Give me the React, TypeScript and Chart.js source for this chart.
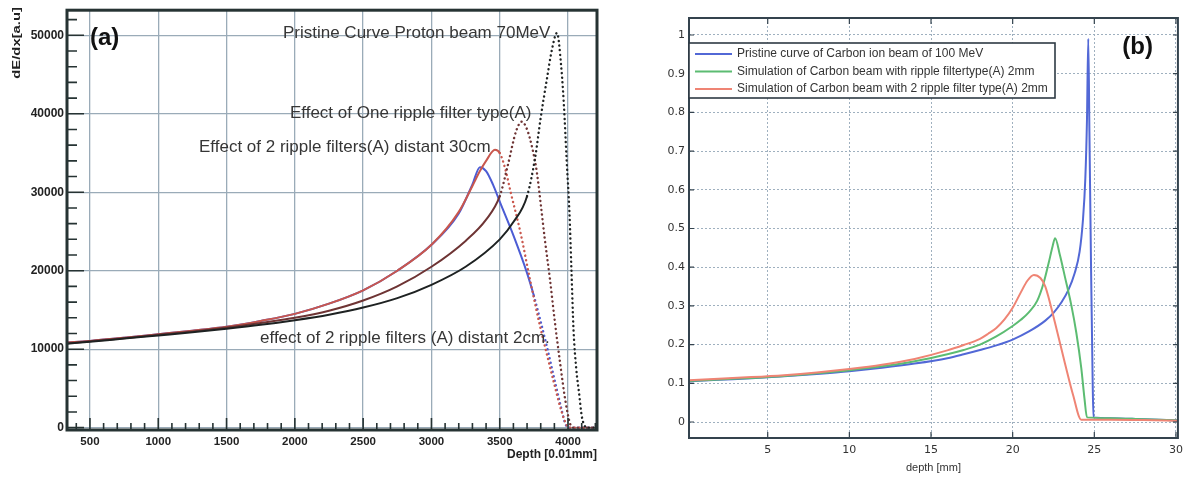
import React, { useEffect, useRef } from 'react';
import { Chart, registerables } from 'chart.js';

Chart.register(...registerables);

// ---------- Panel (a): proton beam 70 MeV ----------
const aPristineX = [332, 500, 750, 1000, 1250, 1500, 1750, 2000, 2250, 2500, 2750, 3000, 3250, 3500, 3600, 3700, 3760, 3800, 3846, 3880, 3919, 3950, 3970, 3990, 4010, 4025, 4040, 4060, 4080, 4100, 4120, 4140, 4212];
const aPristineY = [10700, 10950, 11350, 11750, 12150, 12600, 13100, 13700, 14400, 15300, 16500, 18200, 20500, 24000, 26200, 29500, 34500, 39500, 44500, 48000, 50300, 46000, 41000, 34000, 27500, 20000, 12500, 7500, 4500, 1500, 300, 0, 0];

const aOneFilterX = [332, 500, 750, 1000, 1250, 1500, 1750, 2000, 2250, 2500, 2750, 3000, 3250, 3400, 3500, 3560, 3620, 3662, 3700, 3740, 3772, 3800, 3830, 3867, 3900, 3940, 3980, 4015, 4040, 4212];
const aOneFilterY = [10750, 11000, 11400, 11850, 12250, 12750, 13350, 14000, 14900, 16200, 18000, 20500, 23800, 26500, 29500, 33500, 37800, 39000, 38000, 35500, 32500, 28500, 24000, 19000, 14000, 8500, 3500, 500, 0, 0];

const aTwoFilters30X = [332, 500, 750, 1000, 1250, 1500, 1750, 2000, 2250, 2500, 2750, 3000, 3200, 3300, 3355, 3400, 3465, 3500, 3540, 3580, 3650, 3720, 3794, 3850, 3900, 3950, 3990, 4010, 4212];
const aTwoFilters30Y = [10850, 11050, 11450, 11900, 12350, 12850, 13600, 14500, 15800, 17500, 20000, 23300, 27500, 30800, 32700, 34000, 35400, 35000, 33000, 30000, 25000, 19000, 13000, 9000, 5500, 2200, 300, 0, 0];

const aTwoFilters2X = [332, 500, 750, 1000, 1250, 1500, 1750, 2000, 2250, 2500, 2750, 3000, 3200, 3300, 3355, 3400, 3450, 3500, 3600, 3700, 3750, 3800, 3850, 3900, 3950, 3980, 4000, 4212];
const aTwoFilters2Y = [10850, 11050, 11450, 11900, 12350, 12850, 13600, 14500, 15800, 17500, 20000, 23300, 27300, 31000, 33200, 32700, 31000, 28800, 24500, 19700, 16800, 13500, 10000, 6200, 2500, 500, 0, 0];

const aXTicks = [500, 1000, 1500, 2000, 2500, 3000, 3500, 4000];
const aYTicks = [0, 10000, 20000, 30000, 40000, 50000];
const aXMinor = [400, 500, 600, 700, 800, 900, 1000, 1100, 1200, 1300, 1400, 1500, 1600, 1700, 1800, 1900, 2000, 2100, 2200, 2300, 2400, 2500, 2600, 2700, 2800, 2900, 3000, 3100, 3200, 3300, 3400, 3500, 3600, 3700, 3800, 3900, 4000, 4100, 4200];
const aYMinor = [0, 2000, 4000, 6000, 8000, 10000, 12000, 14000, 16000, 18000, 20000, 22000, 24000, 26000, 28000, 30000, 32000, 34000, 36000, 38000, 40000, 42000, 44000, 46000, 48000, 50000, 52000];

const aNotes = [
  { text: 'Pristine Curve Proton beam 70MeV', x: 1913, y: 50200 },
  { text: 'Effect of One ripple filter type(A)', x: 1964, y: 40100 },
  { text: 'Effect of 2 ripple filters(A) distant 30cm', x: 1298, y: 35770 },
  { text: 'effect of 2 ripple filters (A) distant 2cm.', x: 1745, y: 11340 },
];

// ---------- Panel (b): carbon ion beam 100 MeV ----------
const bPristineX = [0.18, 2, 4, 6, 8, 10, 12, 14, 16, 17, 18, 19, 20, 21, 22, 22.5, 23, 23.4, 23.8, 24.1, 24.3, 24.45, 24.55, 24.63, 24.7, 24.8, 24.9, 24.95, 26, 28, 30.12];
const bPristineY = [0.105, 0.109, 0.113, 0.118, 0.124, 0.131, 0.14, 0.151, 0.165, 0.175, 0.186, 0.198, 0.213, 0.234, 0.262, 0.282, 0.31, 0.34, 0.385, 0.44, 0.52, 0.63, 0.78, 0.99, 0.75, 0.4, 0.1, 0.012, 0.01, 0.007, 0.004];

const bOneRippleX = [0.18, 2, 4, 6, 8, 10, 12, 14, 16, 17, 18, 19, 20, 20.5, 21, 21.5, 21.9, 22.2, 22.45, 22.6, 22.9, 23.2, 23.6, 23.9, 24.2, 24.4, 24.55, 26, 28, 30.12];
const bOneRippleY = [0.106, 0.11, 0.114, 0.119, 0.126, 0.134, 0.144, 0.157, 0.175, 0.186, 0.2, 0.221, 0.248, 0.264, 0.284, 0.313, 0.36, 0.41, 0.455, 0.475, 0.43, 0.375, 0.3, 0.23, 0.14, 0.06, 0.012, 0.01, 0.007, 0.004];

const bTwoRippleX = [0.18, 2, 4, 6, 8, 10, 12, 14, 16, 17, 18, 18.5, 19, 19.5, 20, 20.5, 20.9, 21.3, 21.7, 22, 22.6, 23.2, 23.7, 24.2, 26, 28, 30.12];
const bTwoRippleY = [0.108, 0.112, 0.116, 0.121, 0.128, 0.137, 0.148, 0.163, 0.185, 0.199, 0.215, 0.228, 0.243, 0.265, 0.295, 0.335, 0.365, 0.38, 0.372, 0.35, 0.255, 0.152, 0.07, 0.006, 0.006, 0.005, 0.003];

const bXTicks = [5, 10, 15, 20, 25, 30];
const bYTicks = [0, 0.1, 0.2, 0.3, 0.4, 0.5, 0.6, 0.7, 0.8, 0.9, 1];
const bLegendLabels = [
  'Pristine curve of Carbon ion beam of 100 MeV',
  'Simulation of Carbon beam with ripple filtertype(A) 2mm',
  'Simulation of Carbon beam with 2 ripple filter type(A) 2mm',
];
const bColors = ['#5268d6', '#5cbc72', '#ef8474'];

const FONT = '"Liberation Sans", Arial, sans-serif';
const FONT_B = '"DejaVu Sans", Verdana, sans-serif';

const pts = (xs: number[], ys: number[]) => xs.map((x, i) => ({ x, y: ys[i] }));

function aSeries(label: string, xs: number[], ys: number[], color: string, dotFrom: number, order: number) {
  return {
    label,
    data: pts(xs, ys),
    borderColor: color,
    borderWidth: 2,
    borderCapStyle: 'round',
    pointRadius: 0,
    cubicInterpolationMode: 'monotone',
    order,
    segment: {
      borderDash: (c: any) => (c.p0.parsed.x >= dotFrom ? [0.1, 4.5] : undefined),
      borderWidth: (c: any) => (c.p0.parsed.x >= dotFrom ? 2.4 : undefined),
    },
  };
}

const decorA = {
  id: 'decorA',
  afterDraw(chart: any) {
    const { ctx, chartArea: ca, scales } = chart;
    const x = scales.x;
    const y = scales.y;
    ctx.save();
    ctx.strokeStyle = '#263333';
    ctx.lineWidth = 1.6;
    ctx.beginPath();
    for (const v of aYMinor) {
      const py = y.getPixelForValue(v);
      if (py < ca.top || py > ca.bottom) continue;
      const len = aYTicks.includes(v) ? 17 : 10;
      ctx.moveTo(ca.left, py);
      ctx.lineTo(ca.left + len, py);
    }
    for (const v of aXMinor) {
      const px = x.getPixelForValue(v);
      if (px < ca.left || px > ca.right) continue;
      const len = aXTicks.includes(v) ? 12 : 7;
      ctx.moveTo(px, ca.bottom);
      ctx.lineTo(px, ca.bottom - len);
    }
    ctx.stroke();
    ctx.lineWidth = 3;
    ctx.strokeRect(ca.left, ca.top, ca.right - ca.left, ca.bottom - ca.top);

    // annotations
    ctx.fillStyle = '#363636';
    ctx.font = `17px ${FONT}`;
    ctx.textBaseline = 'middle';
    ctx.textAlign = 'left';
    for (const n of aNotes) ctx.fillText(n.text, x.getPixelForValue(n.x), y.getPixelForValue(n.y));

    // panel tag
    ctx.fillStyle = '#111';
    ctx.font = `bold 24px ${FONT}`;
    ctx.fillText('(a)', ca.left + 23, ca.top + 28);

    // axis titles
    ctx.fillStyle = '#222';
    ctx.font = `bold 12px ${FONT}`;
    ctx.textAlign = 'right';
    ctx.fillText('Depth [0.01mm]', ca.right, 455);

    ctx.save();
    ctx.translate(17, 7);
    ctx.rotate(-Math.PI / 2);
    ctx.scale(1.35, 1);
    ctx.font = `bold 11px ${FONT}`;
    ctx.textAlign = 'right';
    ctx.fillText('dE/dx[a.u]', 0, 0);
    ctx.restore();
    ctx.restore();
  },
};

const decorB = {
  id: 'decorB',
  afterDraw(chart: any) {
    const { ctx, chartArea: ca, scales } = chart;
    const x = scales.x;
    const y = scales.y;
    ctx.save();
    ctx.strokeStyle = '#34434e';
    ctx.lineWidth = 1.2;
    ctx.beginPath();
    for (const v of bXTicks) {
      const px = x.getPixelForValue(v);
      ctx.moveTo(px, ca.bottom);
      ctx.lineTo(px, ca.bottom - 6);
      ctx.moveTo(px, ca.top);
      ctx.lineTo(px, ca.top + 6);
    }
    for (const v of bYTicks) {
      const py = y.getPixelForValue(v);
      ctx.moveTo(ca.left, py);
      ctx.lineTo(ca.left + 5, py);
      ctx.moveTo(ca.right, py);
      ctx.lineTo(ca.right - 5, py);
    }
    ctx.stroke();
    ctx.lineWidth = 2;
    ctx.strokeRect(ca.left, ca.top, ca.right - ca.left, ca.bottom - ca.top);

    // legend
    const lx = ca.left;
    const ly = ca.top + 25;
    const lw = 366;
    const lh = 55;
    ctx.fillStyle = '#ffffff';
    ctx.fillRect(lx, ly, lw, lh);
    ctx.lineWidth = 1.6;
    ctx.strokeStyle = '#2e3a44';
    ctx.strokeRect(lx, ly, lw, lh);
    ctx.font = `12px ${FONT}`;
    ctx.textBaseline = 'middle';
    ctx.textAlign = 'left';
    bLegendLabels.forEach((lab, i) => {
      const ry = ly + 11 + i * 17.5;
      ctx.strokeStyle = bColors[i];
      ctx.lineWidth = 2;
      ctx.beginPath();
      ctx.moveTo(lx + 6, ry);
      ctx.lineTo(lx + 43, ry);
      ctx.stroke();
      ctx.fillStyle = '#333';
      ctx.fillText(lab, lx + 48, ry);
    });

    // panel tag
    ctx.fillStyle = '#111';
    ctx.font = `bold 24px ${FONT}`;
    ctx.textAlign = 'right';
    ctx.fillText('(b)', ca.right - 25, ca.top + 29);

    // x title
    ctx.fillStyle = '#333';
    ctx.font = `11px ${FONT}`;
    ctx.textAlign = 'center';
    ctx.fillText('depth [mm]', (ca.left + ca.right) / 2, 468);
    ctx.restore();
  },
};

function makeA(canvas: HTMLCanvasElement) {
  return new Chart(canvas, {
    type: 'line',
    data: {
      datasets: [
        aSeries('effect of 2 ripple filters (A) distant 2cm', aTwoFilters2X, aTwoFilters2Y, '#4c5cd4', 3750, 3),
        aSeries('Effect of 2 ripple filters(A) distant 30cm', aTwoFilters30X, aTwoFilters30Y, '#c9574d', 3500, 2),
        aSeries('Effect of One ripple filter type(A)', aOneFilterX, aOneFilterY, '#6e3434', 3500, 1),
        aSeries('Pristine Curve Proton beam 70MeV', aPristineX, aPristineY, '#1e2222', 3700, 0),
      ] as any,
    },
    options: {
      responsive: false,
      animation: false,
      layout: { padding: { top: 10, right: 8, left: 0, bottom: 0 } },
      plugins: { legend: { display: false }, tooltip: { enabled: false } },
      scales: {
        x: {
          type: 'linear',
          min: 332,
          max: 4212,
          afterBuildTicks: (s: any) => { s.ticks = aXTicks.map((value) => ({ value })); },
          afterFit: (s: any) => { s.height = 48; },
          grid: { color: '#9aabb8', lineWidth: 1.3, drawTicks: false },
          border: { display: false },
          ticks: { padding: 5, color: '#222', font: { family: FONT, size: 11.5, weight: 'bold' }, maxRotation: 0, autoSkip: false, callback: (v: any) => String(v) },
        },
        y: {
          type: 'linear',
          min: -300,
          max: 53200,
          afterBuildTicks: (s: any) => { s.ticks = aYTicks.map((value) => ({ value })); },
          afterFit: (s: any) => { s.width = 67; },
          grid: { color: '#9aabb8', lineWidth: 1.3, drawTicks: false },
          border: { display: false },
          ticks: { padding: 3, color: '#222', font: { family: FONT, size: 12, weight: 'bold' }, autoSkip: false, callback: (v: any) => String(v) },
        },
      },
    } as any,
    plugins: [decorA],
  });
}

function makeB(canvas: HTMLCanvasElement) {
  const series = (label: string, xs: number[], ys: number[], color: string, order: number) => ({
    label,
    data: pts(xs, ys),
    borderColor: color,
    borderWidth: 2,
    pointRadius: 0,
    cubicInterpolationMode: 'monotone',
    order,
  });
  return new Chart(canvas, {
    type: 'line',
    data: {
      datasets: [
        series(bLegendLabels[0], bPristineX, bPristineY, bColors[0], 2),
        series(bLegendLabels[1], bOneRippleX, bOneRippleY, bColors[1], 1),
        series(bLegendLabels[2], bTwoRippleX, bTwoRippleY, bColors[2], 0),
      ] as any,
    },
    options: {
      responsive: false,
      animation: false,
      layout: { padding: { top: 18, right: 9, left: 0, bottom: 0 } },
      plugins: { legend: { display: false }, tooltip: { enabled: false } },
      scales: {
        x: {
          type: 'linear',
          min: 0.18,
          max: 30.12,
          afterBuildTicks: (s: any) => { s.ticks = bXTicks.map((value) => ({ value })); },
          afterFit: (s: any) => { s.height = 40; },
          grid: { color: '#9fb0bf', lineWidth: 1, drawTicks: false },
          border: { display: false, dash: [2, 2] },
          ticks: { padding: 6, color: '#333', font: { family: FONT_B, size: 11 }, maxRotation: 0, autoSkip: false, callback: (v: any) => String(v) },
        },
        y: {
          type: 'linear',
          min: -0.0413,
          max: 1.0439,
          afterBuildTicks: (s: any) => { s.ticks = bYTicks.map((value) => ({ value })); },
          afterFit: (s: any) => { s.width = 84; },
          grid: { color: '#9fb0bf', lineWidth: 1, drawTicks: false },
          border: { display: false, dash: [2, 2] },
          ticks: { padding: 4, color: '#333', font: { family: FONT_B, size: 11 }, autoSkip: false, callback: (v: any) => String(v) },
        },
      },
    } as any,
    plugins: [decorB],
  });
}

export default function App() {
  const refA = useRef<HTMLCanvasElement>(null);
  const refB = useRef<HTMLCanvasElement>(null);
  useEffect(() => {
    const a = makeA(refA.current as HTMLCanvasElement);
    const b = makeB(refB.current as HTMLCanvasElement);
    return () => {
      a.destroy();
      b.destroy();
    };
  }, []);
  return (
    <div style={{ position: 'absolute', left: 0, top: 0, width: 1189, height: 478, background: '#fff', overflow: 'hidden' }}>
      <canvas ref={refA} width={605} height={478} style={{ position: 'absolute', left: 0, top: 0 }} />
      <canvas ref={refB} width={584} height={478} style={{ position: 'absolute', left: 605, top: 0 }} />
    </div>
  );
}
